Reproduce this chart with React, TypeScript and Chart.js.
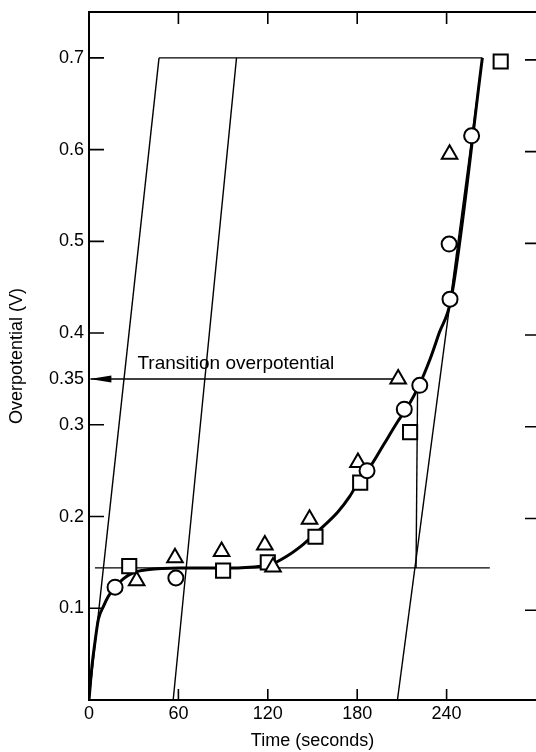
import React, { useEffect, useRef } from 'react';
import { Chart, registerables } from 'chart.js';

Chart.register(...registerables);

const FONT = "'Liberation Sans', Arial, sans-serif";

// Axis ticks
const xTickValues = [0, 60, 120, 180, 240];
const xInnerTicks = [60, 120, 180, 240];
const yTickValues = [0, 0.1, 0.2, 0.3, 0.35, 0.4, 0.5, 0.6, 0.7];
const yLeftMarks = [0.1, 0.2, 0.3, 0.4, 0.5, 0.6, 0.7];
const yRightMarks = [0.1, 0.2, 0.3, 0.4, 0.5, 0.6, 0.7];

// Data points (time in s, overpotential in V)
const circleT = [17.5, 58.3, 186.6, 211.6, 222, 241.7, 242.3, 256.8];
const circleV = [0.123, 0.133, 0.25, 0.317, 0.343, 0.497, 0.437, 0.615];

const triangleT = [32, 57.7, 89, 118, 123.5, 148, 180.5, 207.5, 242];
const triangleV = [0.13, 0.155, 0.162, 0.169, 0.145, 0.197, 0.259, 0.35, 0.595];

const squareT = [27, 90, 120, 152, 182, 215.5, 276.3];
const squareV = [0.146, 0.141, 0.15, 0.178, 0.237, 0.292, 0.696];

// Fitted curve
const curveT = [0, 1.8, 4, 6.3, 9.7, 13, 17.5, 23, 30, 39, 61, 95, 117, 121, 133, 144, 155, 167, 175, 182, 189, 198, 207, 214, 221, 229, 235, 243, 264];
const curveV = [0, 0.034, 0.063, 0.088, 0.102, 0.113, 0.123, 0.132, 0.139, 0.142, 0.1438, 0.1438, 0.146, 0.147, 0.157, 0.17, 0.186, 0.205, 0.222, 0.241, 0.255, 0.279, 0.303, 0.32, 0.341, 0.372, 0.4, 0.437, 0.7];

// Construction lines
const slopeAT = [0, 47];
const slopeAV = [0, 0.7];
const slopeBT = [207, 264];
const slopeBV = [0, 0.7];
const slopeCT = [56.5, 99];
const slopeCV = [0, 0.7];
const plateauT = [47, 264];
const plateauV = [0.7, 0.7];
const baseLineT = [4, 269];
const baseLineV = [0.144, 0.144];
const verticalT = [219.5, 220.5];
const verticalV = [0.144, 0.336];
const arrowLineT = [1, 209];
const arrowLineV = [0.35, 0.35];
const arrowTipT = 0.6;
const arrowBaseT = 15;
const arrowV = 0.35;

const annotationText = 'Transition overpotential';
const annotationT = 32.5;
const annotationV = 0.366;

const zip = (t: number[], v: number[]) => t.map((x, i) => ({ x, y: v[i] }));

const lineDs = (t: number[], v: number[], w = 1.4) => ({
  data: zip(t, v),
  showLine: true,
  borderColor: '#000',
  borderWidth: w,
  pointRadius: 0,
  pointHoverRadius: 0,
  fill: false,
  order: 10,
});

const markerDs = (t: number[], v: number[], style: string, r: number) => ({
  data: zip(t, v),
  showLine: false,
  pointStyle: style,
  pointRadius: r,
  pointHoverRadius: r,
  pointBorderWidth: 2,
  pointBorderColor: '#000',
  pointBackgroundColor: '#fff',
  borderColor: '#000',
  backgroundColor: '#fff',
  order: 1,
});

const decorPlugin = {
  id: 'decor',
  afterDraw(chart: any) {
    const { ctx, chartArea, scales } = chart;
    const { left, right, top, bottom } = chartArea;
    const x = scales.x;
    const y = scales.y;
    ctx.save();
    ctx.strokeStyle = '#000';
    ctx.lineWidth = 2;
    ctx.beginPath();
    ctx.moveTo(left - 1, top);
    ctx.lineTo(right, top);
    ctx.stroke();

    ctx.lineWidth = 1.6;
    ctx.beginPath();
    for (const t of xInnerTicks) {
      const px = x.getPixelForValue(t);
      ctx.moveTo(px, bottom);
      ctx.lineTo(px, bottom - 11);
      ctx.moveTo(px, top);
      ctx.lineTo(px, top + 12);
    }
    for (const v of yLeftMarks) {
      const py = y.getPixelForValue(v);
      ctx.moveTo(left, py);
      ctx.lineTo(left + 15, py);
    }
    for (const v of yRightMarks) {
      const py = y.getPixelForValue(v) + 2;
      ctx.moveTo(right, py);
      ctx.lineTo(right - 11, py);
    }
    ctx.stroke();

    const ay = y.getPixelForValue(arrowV);
    ctx.fillStyle = '#000';
    ctx.beginPath();
    ctx.moveTo(x.getPixelForValue(arrowTipT), ay);
    ctx.lineTo(x.getPixelForValue(arrowBaseT), ay - 3.5);
    ctx.lineTo(x.getPixelForValue(arrowBaseT), ay + 3.5);
    ctx.closePath();
    ctx.fill();

    ctx.font = `19px ${FONT}`;
    ctx.textAlign = 'left';
    ctx.textBaseline = 'middle';
    ctx.fillText(annotationText, x.getPixelForValue(annotationT), y.getPixelForValue(annotationV));
    ctx.restore();
  },
};

export default function App() {
  const canvasRef = useRef<HTMLCanvasElement | null>(null);

  useEffect(() => {
    if (!canvasRef.current) return;
    const chart = new Chart(canvasRef.current, {
      type: 'scatter',
      data: {
        datasets: [
          markerDs(circleT, circleV, 'circle', 7.5),
          markerDs(triangleT, triangleV, 'triangle', 9),
          markerDs(squareT, squareV, 'rect', 10),
          { ...lineDs(curveT, curveV, 3), cubicInterpolationMode: 'monotone', order: 5 },
          lineDs(slopeAT, slopeAV),
          lineDs(slopeBT, slopeBV),
          lineDs(slopeCT, slopeCV),
          lineDs(plateauT, plateauV),
          lineDs(baseLineT, baseLineV),
          lineDs(verticalT, verticalV),
          lineDs(arrowLineT, arrowLineV),
        ] as any,
      },
      options: {
        animation: false,
        responsive: true,
        maintainAspectRatio: false,
        layout: { padding: { top: 12, left: 0, right: 0, bottom: 0 } },
        plugins: {
          legend: { display: false },
          tooltip: { enabled: false },
        },
        events: [],
        scales: {
          x: {
            type: 'linear',
            min: 0,
            max: 300,
            afterBuildTicks: (s: any) => {
              s.ticks = xTickValues.map((value) => ({ value }));
            },
            afterFit: (s: any) => {
              s.height = 52;
              s.paddingLeft = 0;
              s.paddingRight = 0;
            },
            ticks: {
              autoSkip: false,
              maxRotation: 0,
              padding: 3,
              color: '#000',
              font: { family: FONT, size: 18 },
              callback: (v: any) => String(v),
            },
            grid: { display: false, drawTicks: false },
            border: { display: true, color: '#000', width: 2 },
            title: {
              display: true,
              text: 'Time (seconds)',
              color: '#000',
              font: { family: FONT, size: 18 },
              padding: { top: 0, bottom: 0 },
            },
          },
          y: {
            type: 'linear',
            min: 0,
            max: 0.75,
            afterBuildTicks: (s: any) => {
              s.ticks = yTickValues.map((value) => ({ value }));
            },
            afterFit: (s: any) => {
              s.width = 89;
              s.paddingTop = 0;
              s.paddingBottom = 0;
            },
            ticks: {
              autoSkip: false,
              padding: 5,
              color: '#000',
              font: { family: FONT, size: 18 },
              callback: (v: any) => (v === 0 ? '' : String(Number(Number(v).toFixed(2)))),
            },
            grid: { display: false, drawTicks: false },
            border: { display: true, color: '#000', width: 2 },
            title: {
              display: true,
              text: 'Overpotential (V)',
              color: '#000',
              font: { family: FONT, size: 18 },
              padding: { top: 6, bottom: 0 },
            },
          },
        },
      } as any,
      plugins: [decorPlugin],
    });
    return () => chart.destroy();
  }, []);

  return (
    <div style={{ position: 'fixed', left: 0, top: 0, width: 536, height: 752, overflow: 'hidden', background: '#fff' }}>
      <div style={{ position: 'absolute', left: 0, top: 0, width: 548, height: 752 }}>
        <canvas ref={canvasRef} />
      </div>
    </div>
  );
}
